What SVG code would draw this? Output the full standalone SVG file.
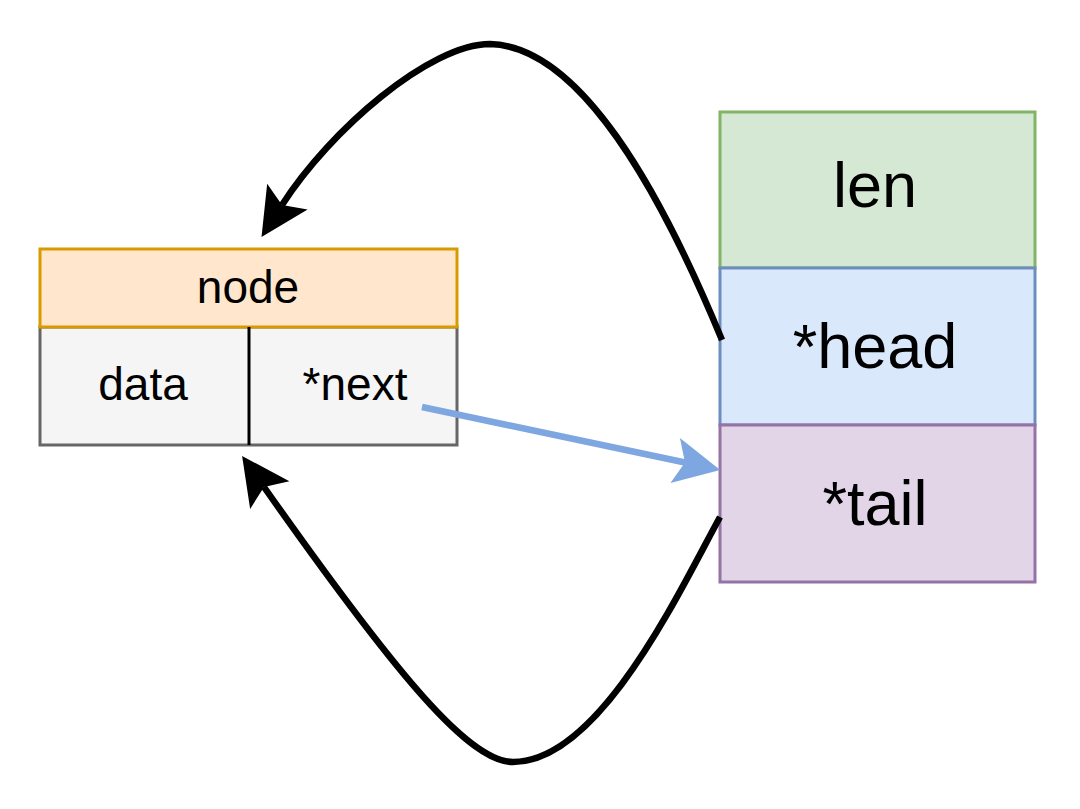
<svg xmlns="http://www.w3.org/2000/svg" width="1080" height="809" viewBox="0 0 1080 809">
<defs>
<style>
.t{font-family:"Liberation Sans",Arial,sans-serif;fill:#000;text-anchor:middle}
.s{font-size:46px}
.b{font-size:63px}
.box{stroke-width:3}
.edge{fill:none;stroke-width:6.5}
</style>
<marker id="ak" markerUnits="userSpaceOnUse" markerWidth="100" markerHeight="100" refX="0" refY="0" orient="auto" overflow="visible">
<path d="M 38 0 L -10 -24 L 0 0 L -10 24 Z" fill="#000"/>
</marker>
<marker id="ab" markerUnits="userSpaceOnUse" markerWidth="100" markerHeight="100" refX="0" refY="0" orient="auto" overflow="visible">
<path d="M 36 0 L -10 -23 L 0 0 L -10 23 Z" fill="#7EA6E0"/>
</marker>
</defs>
<rect width="1080" height="809" fill="#fff"/>
<g id="node">
<rect class="box" x="40" y="327" width="417" height="118" fill="#f5f5f5" stroke="#666666"/>
<rect class="box" x="40" y="249" width="417" height="78" fill="#ffe6cc" stroke="#d79b00"/>
<line x1="249" y1="327" x2="249" y2="445" stroke="#000" stroke-width="3"/>
<text class="t s" x="248" y="303">node</text>
<text class="t s" x="143" y="400">data</text>
<text class="t s" x="355" y="400">*next</text>
</g>
<g id="len">
<rect class="box" x="720" y="112" width="315" height="156" fill="#d5e8d4" stroke="#82b366"/>
<text class="t b" x="875" y="207">len</text>
</g>
<g id="head">
<rect class="box" x="720" y="268" width="315" height="157" fill="#dae8fc" stroke="#6c8ebf"/>
<text class="t b" x="875" y="368">*head</text>
</g>
<g id="tail">
<rect class="box" x="720" y="425" width="315" height="157" fill="#e1d5e7" stroke="#9673a6"/>
<text class="t b" x="875" y="525">*tail</text>
</g>
<g id="connectors">
<path class="edge" stroke="#000" d="M 722 340 C 660 190, 580 46, 490 44 C 430 44, 330 130, 282 205" marker-end="url(#ak)"/>
<path class="edge" stroke="#000" d="M 720 517 C 680 590, 600 762, 513 762 C 470 762, 400 680, 264 487" marker-end="url(#ak)"/>
<path class="edge" stroke="#7EA6E0" d="M 422 407 L 685 462.5" marker-end="url(#ab)"/>
</g>
</svg>
